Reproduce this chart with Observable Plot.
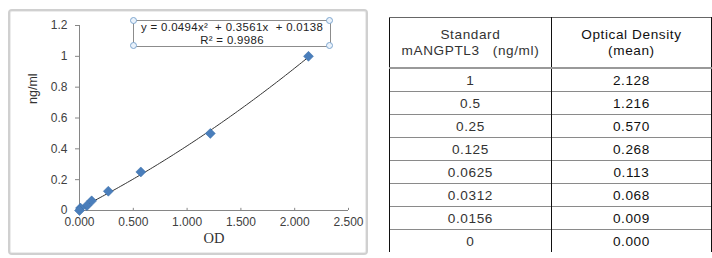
<!DOCTYPE html>
<html>
<head>
<meta charset="utf-8">
<script src="https://cdn.jsdelivr.net/npm/d3@7"></script>
<script src="https://cdn.jsdelivr.net/npm/@observablehq/plot@0.6"></script>
<style>
  html, body { margin: 0; padding: 0; background: #fff; overflow: hidden; }
  #wrap { position: relative; width: 712px; height: 258px; overflow: hidden; font-family: "Liberation Sans", Arial, sans-serif; }
  #frame { position: absolute; left: 8px; top: 9px; width: 356px; height: 242px; border: 2px solid #d0d0d0; border-radius: 4px; box-shadow: inset 0 0 0 1px #ececec; }
  #chart { position: absolute; left: 0; top: 0; }
  #eqbox { position: absolute; left: 133px; top: 20px; width: 196px; height: 25px; border: 1px solid #8c8c8c; text-align: center; font-size: 11.4px; letter-spacing: 0.35px; line-height: 12.5px; color: #222; background: #fff; white-space: nowrap; }
  .h { position: absolute; width: 5px; height: 5px; border: 1px solid #7fa7cf; border-radius: 50%; background: #eaf2fb; }
  table { position: absolute; left: 389px; top: 17px; border-collapse: collapse; font-size: 13.6px; letter-spacing: 0.6px; color: #222; }
  td { text-align: center; padding: 0; border-left: 1px solid #111; border-right: 1px solid #111; border-top: 1.5px solid #8a8a8a; height: 22px; line-height: 15px; white-space: nowrap; }
  tr.hd td { height: 49px; border-top: 1.5px solid #666; border-bottom: 2px solid #999; line-height: 16px; }
  td.c1 { width: 162px; color: #333; }
  td.c2 { width: 162px; color: #111; }
</style>
</head>
<body>
<div id="wrap">
  <div id="frame"></div>
  <div id="chart"></div>
  <div id="eqbox"><div id="eq1"></div><div id="eq2"></div></div>
  <table id="tbl"></table>
</div>
<script>
// Standard concentrations (ng/ml) and mean optical density
const concentrations = [1, 0.5, 0.25, 0.125, 0.0625, 0.0312, 0.0156, 0];
const concLabels = ["1", "0.5", "0.25", "0.125", "0.0625", "0.0312", "0.0156", "0"];
const odValues = [2.128, 1.216, 0.570, 0.268, 0.113, 0.068, 0.009, 0.000];
const odLabels = ["2.128", "1.216", "0.570", "0.268", "0.113", "0.068", "0.009", "0.000"];
// Trendline coefficients shown on the chart: y = a x^2 + b x + c
const trendCoef = [0.0494, 0.3561, 0.0138];
const rSquared = "0.9986";
const xTicks = [0, 0.5, 1, 1.5, 2, 2.5];
const yTicks = [0, 0.2, 0.4, 0.6, 0.8, 1, 1.2];
const headers = [["Standard", "mANGPTL3   (ng/ml)"], ["Optical Density", "(mean)"]];

const points = odValues.map((od, i) => ({od, conc: concentrations[i]}));
const xMax = d3.max(odValues);
const curve = d3.range(0, 101).map(i => {
  const x = xMax * i / 100;
  return {od: x, conc: trendCoef[0] * x * x + trendCoef[1] * x + trendCoef[2]};
});

const chart = Plot.plot({
  width: 370,
  height: 258,
  marginLeft: 79,
  marginRight: 22,
  marginTop: 25,
  marginBottom: 48,
  style: {fontFamily: "'Liberation Sans', Arial, sans-serif", fontSize: "12px", color: "#404040", background: "transparent"},
  x: {domain: [0, 2.5], ticks: xTicks},
  y: {domain: [0, 1.2], ticks: yTicks},
  marks: [
    Plot.axisY(yTicks, {tickSize: 4, tickPadding: 8, tickFormat: d => String(d), stroke: "#868686", fill: "#404040", label: null, fontSize: 12}),
    Plot.axisX(xTicks, {tickSize: 0, tickPadding: 7, tickFormat: d3.format(".3f"), fill: "#404040", label: null, fontSize: 12}),
    Plot.ruleX(xTicks.slice(1), {y1: 0, y2: 0.014, stroke: "#868686"}),
    Plot.ruleX([0], {stroke: "#868686"}),
    Plot.ruleY([0], {stroke: "#868686"}),
    Plot.line(curve, {x: "od", y: "conc", stroke: "#333", strokeWidth: 1}),
    Plot.dot(points, {x: "od", y: "conc", symbol: "diamond2", r: 4.5, fill: "#4a7ebb", stroke: "#3b6ea8", strokeWidth: 0.5}),
    Plot.text(["OD"], {frameAnchor: "bottom", dy: 32, fontFamily: "'Liberation Serif', 'Times New Roman', serif", fontSize: 14.5, fill: "#333"}),
    Plot.text(["ng/ml"], {frameAnchor: "left", dx: -47, dy: -14, rotate: -90, fontSize: 12.5, fill: "#333", fontWeight: "normal"})
  ]
});
document.getElementById("chart").appendChild(chart);

document.getElementById("eq1").innerHTML = `y = ${trendCoef[0]}x²&nbsp; + ${trendCoef[1]}x&nbsp; + ${trendCoef[2]}`;
document.getElementById("eq2").textContent = `R² = ${rSquared}`;
const box = document.getElementById("eqbox");
[[-4, -4], [-4, 21], [192, -4], [192, 21]].forEach(([l, t]) => {
  const h = document.createElement("div");
  h.className = "h"; h.style.left = l + "px"; h.style.top = t + "px";
  box.appendChild(h);
});

const tbl = document.getElementById("tbl");
const hr = tbl.insertRow(); hr.className = "hd";
headers.forEach((h, j) => {
  const c = hr.insertCell(); c.className = j ? "c2" : "c1";
  c.innerHTML = h[0] + "<br>" + h[1].replace(/ /g, "&nbsp;");
});
concLabels.forEach((cl, i) => {
  const r = tbl.insertRow();
  const a = r.insertCell(); a.className = "c1"; a.textContent = cl;
  const b = r.insertCell(); b.className = "c2"; b.textContent = odLabels[i];
});
</script>
</body>
</html>
